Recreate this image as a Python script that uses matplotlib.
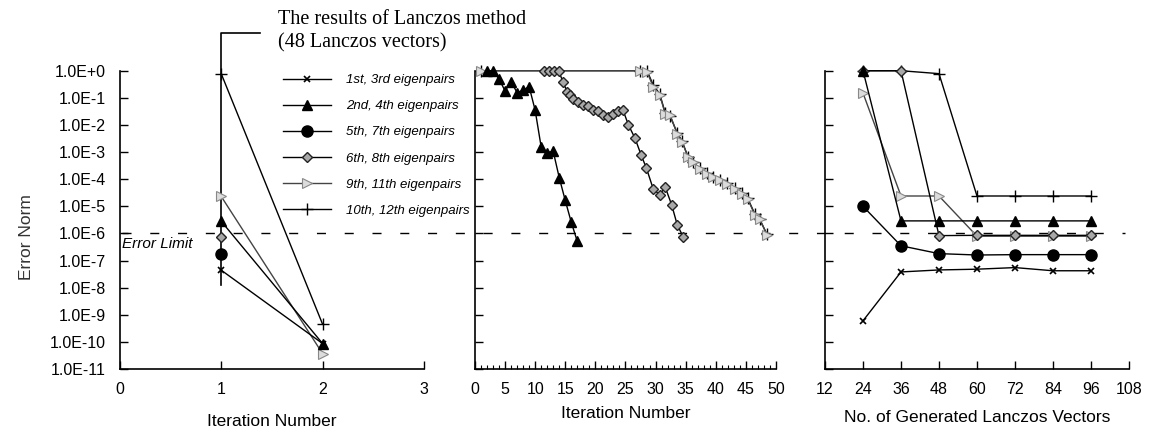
import matplotlib
matplotlib.use('Agg')
import matplotlib.pyplot as plt
import matplotlib.transforms as mtransforms
from matplotlib.lines import Line2D

plt.rcParams['font.family'] = ['Liberation Sans', 'DejaVu Sans']

# legend labels
pair_labels = ['1st, 3rd eigenpairs', '2nd, 4th eigenpairs', '5th, 7th eigenpairs',
               '6th, 8th eigenpairs', '9th, 11th eigenpairs', '10th, 12th eigenpairs']

y_ticks = [1e0, 1e-1, 1e-2, 1e-3, 1e-4, 1e-5, 1e-6, 1e-7, 1e-8, 1e-9, 1e-10, 1e-11]
y_tick_labels = ['1.0E+0', '1.0E-1', '1.0E-2', '1.0E-3', '1.0E-4', '1.0E-5', '1.0E-6',
                 '1.0E-7', '1.0E-8', '1.0E-9', '1.0E-10', '1.0E-11']
error_limit = 1e-6

# left panel: results of Lanczos method (48 Lanczos vectors)
left_x = [1, 2]
left_1 = [4.4e-8, 8.7e-11]
left_2 = [2.8e-6, 8.7e-11]
left_5 = [1.7e-7]
left_6 = [7.2e-7]
left_9 = [2.3e-5, 3.7e-11]
left_10 = [0.77, 4.5e-10]

# middle panel: iteration history
mid_2_x = [2, 3, 4, 5, 6, 7, 8, 9, 10, 11, 12, 13, 14, 15, 16, 17]
mid_2 = [1.0, 1.0, 0.5, 0.18, 0.4, 0.155, 0.19, 0.26, 0.035, 1.55e-3, 9.5e-4,
         1.07e-3, 1.15e-4, 1.65e-5, 2.6e-6, 5.1e-7]
mid_6_x = [11.5, 12.3, 13.1, 13.9, 14.6, 15.3, 15.8, 16.3, 17.1, 17.9, 18.8, 19.6,
           20.4, 21.3, 22.1, 22.9, 23.8, 24.6, 25.5, 26.6, 27.6, 28.5, 29.6, 30.7,
           31.6, 32.7, 33.6, 34.6]
mid_6 = [1, 1, 1, 1, 0.4, 0.17, 0.126, 0.093, 0.072, 0.054, 0.048, 0.035, 0.032,
         0.024, 0.02, 0.025, 0.032, 0.035, 0.01, 3.2e-3, 7.9e-4, 2.5e-4, 4.5e-5,
         2.6e-5, 5.2e-5, 1.1e-5, 2.1e-6, 7.4e-7]
mid_9_x = [1, 27.4, 28.6, 29.6, 30.7, 31.6, 32.4, 33.6, 34.4, 35.4, 36.2, 37.4, 38.5,
           39.5, 40.7, 41.9, 43.2, 44.4, 45.3, 46.5, 47.3, 48.5]
mid_9 = [1, 1, 0.9, 0.26, 0.13, 0.026, 0.024, 4.8e-3, 2.4e-3, 6.7e-4, 4.4e-4, 2.4e-4,
         1.6e-4, 1.2e-4, 9.5e-5, 6.8e-5, 4.5e-5, 2.9e-5, 1.9e-5, 4.9e-6, 3.5e-6, 8.9e-7]
mid_10 = [1, 1, 1.0, 0.3, 0.14, 0.028, 0.022, 5e-3, 2.6e-3, 6.5e-4, 4.2e-4, 2.5e-4,
          1.7e-4, 1.25e-4, 9e-5, 7e-5, 4.7e-5, 3e-5, 2e-5, 5.2e-6, 3.3e-6, 9.5e-7]

# right panel: number of generated Lanczos vectors
vec_x = [24, 36, 48, 60, 72, 84, 96]
right_1 = [6e-10, 3.8e-8, 4.5e-8, 4.8e-8, 5.5e-8, 4.2e-8, 4.2e-8]
right_2 = [1.0, 2.9e-6, 2.9e-6, 2.9e-6, 2.9e-6, 2.9e-6, 2.9e-6]
right_5 = [1.0e-5, 3.5e-7, 1.8e-7, 1.6e-7, 1.65e-7, 1.65e-7, 1.65e-7]
right_6 = [1.0, 1.0, 8.3e-7, 8.5e-7, 8.5e-7, 8.5e-7, 8.5e-7]
right_9 = [0.15, 2.4e-5, 2.4e-5, 7.9e-7, 7.9e-7, 7.9e-7, 7.9e-7]
right_10 = [1.0, 1.0, 0.78, 2.4e-5, 2.4e-5, 2.4e-5, 2.4e-5]

# marker styles for the six pairs
styles = [
    dict(color='black', marker='x', ms=5, mew=1.2, mfc='black', mec='black'),
    dict(color='black', marker='^', ms=7, mfc='black', mec='black'),
    dict(color='black', marker='o', ms=8, mfc='black', mec='black'),
    dict(color='black', marker='D', ms=5.5, mfc='#a8a8a8', mec='#222222', mew=1.0),
    dict(color='#444444', marker='>', ms=7, mfc='#dcdcdc', mec='#888888', mew=0.8),
    dict(color='black', marker='+', ms=9, mew=1.0, mfc='black', mec='black'),
]

fig = plt.figure(figsize=(11.5, 4.32), dpi=100)
ax1 = fig.add_axes([0.1043, 0.1458, 0.2643, 0.6905])
ax2 = fig.add_axes([0.4130, 0.1458, 0.2617, 0.6905])
ax3 = fig.add_axes([0.7174, 0.1458, 0.2643, 0.6905])

for ax in (ax1, ax2, ax3):
    ax.patch.set_visible(False)
    ax.set_yscale('log')
    ax.set_ylim(1e-11, 1e0)
    ax.set_yticks(y_ticks)
    ax.minorticks_off()
    ax.spines['top'].set_visible(False)
    ax.spines['right'].set_visible(False)
    ax.spines['left'].set_linewidth(1.2)
    ax.spines['bottom'].set_linewidth(1.2)
    ax.tick_params(direction='in', length=6, width=1.0, labelsize=11.5, pad=9)

ax1.set_yticklabels(y_tick_labels)
ax1.tick_params(axis='y', labelsize=11.5, pad=10)
ax2.set_yticklabels([])
ax3.set_yticklabels([])

lw = 1.0
kw = dict(lw=lw, clip_on=False, zorder=3)

# left panel
ax1.plot(left_x, left_10, **styles[5], **kw)
ax1.plot(left_x, left_9, **styles[4], **kw)
ax1.plot(left_x, left_2, **styles[1], **kw)
ax1.plot(left_x, left_1, **styles[0], **kw)
ax1.plot(left_x[:1], left_6, **styles[3], **kw)
ax1.plot(left_x[:1], left_5, **styles[2], **kw)
ax1.set_xlim(0, 3)
ax1.set_xticks([0, 1, 2, 3])

# bracket marking the 48 vector result
bracket_x = [1, 1, 1.38]
bracket_y = [1.3e-8, 24.5, 24.5]
ax1.plot(bracket_x, bracket_y, color='black', lw=1.2, clip_on=False, zorder=2)
fig.text(278 / 1150, 1 - 19 / 432, 'The results of Lanczos method', family='Liberation Serif',
         fontsize=14.5, va='center', ha='left')
fig.text(278 / 1150, 1 - 43 / 432, '(48 Lanczos vectors)', family='Liberation Serif',
         fontsize=14.5, va='center', ha='left')

# middle panel
ax2.plot(mid_9_x, mid_10, **styles[5], **kw)
ax2.plot(mid_9_x, mid_9, **styles[4], **kw)
ax2.plot(mid_6_x, mid_6, **styles[3], **kw)
ax2.plot(mid_2_x, mid_2, **styles[1], **kw)
ax2.set_xlim(0, 50)
ax2.set_xticks(range(0, 51, 5))
ax2.set_xticks(range(0, 51, 1), minor=True)
ax2.tick_params(axis='x', which='minor', direction='in', length=3, width=0.8)

# right panel
ax3.plot(vec_x, right_10, **styles[5], **kw)
ax3.plot(vec_x, right_9, **styles[4], **kw)
ax3.plot(vec_x, right_6, **styles[3], **kw)
ax3.plot(vec_x, right_2, **styles[1], **kw)
ax3.plot(vec_x, right_5, **styles[2], **kw)
ax3.plot(vec_x, right_1, **styles[0], **kw)
ax3.set_xlim(12, 108)
ax3.set_xticks(range(12, 109, 12))

# error limit across all panels
blend = mtransforms.blended_transform_factory(fig.transFigure, ax1.transData)
ax1.add_line(Line2D([122 / 1150, 1125 / 1150], [error_limit, error_limit], transform=blend,
                    color='black', lw=1.0, dashes=(6.5, 13.5), clip_on=False, zorder=1))
ax1.text(0.02, 4.0e-7, 'Error Limit', fontsize=11, style='italic', va='center', ha='left')

# legend
handles = [Line2D([0], [0], lw=lw, **s) for s in styles]
ax1.legend(handles, pair_labels, loc='upper left', frameon=False,
           bbox_to_anchor=(283 / 1150, 1 - 74 / 432), bbox_transform=fig.transFigure,
           borderaxespad=0, borderpad=0, handlelength=3.6, handletextpad=1.2,
           labelspacing=1.05, prop={'style': 'italic', 'size': 9.5})

fig.text(27 / 1150, 0.451, 'Error Norm', rotation=90, fontsize=12.5, va='center', ha='center',
         color='#333333')
fig.text(272 / 1150, 10 / 432, 'Iteration Number', fontsize=12.5, va='center', ha='center')
fig.text(626 / 1150, 19 / 432, 'Iteration Number', fontsize=12.5, va='center', ha='center')
fig.text(977 / 1150, 15 / 432, 'No. of Generated Lanczos Vectors', fontsize=12.5,
         va='center', ha='center')

fig.savefig('out.png', dpi=100)
